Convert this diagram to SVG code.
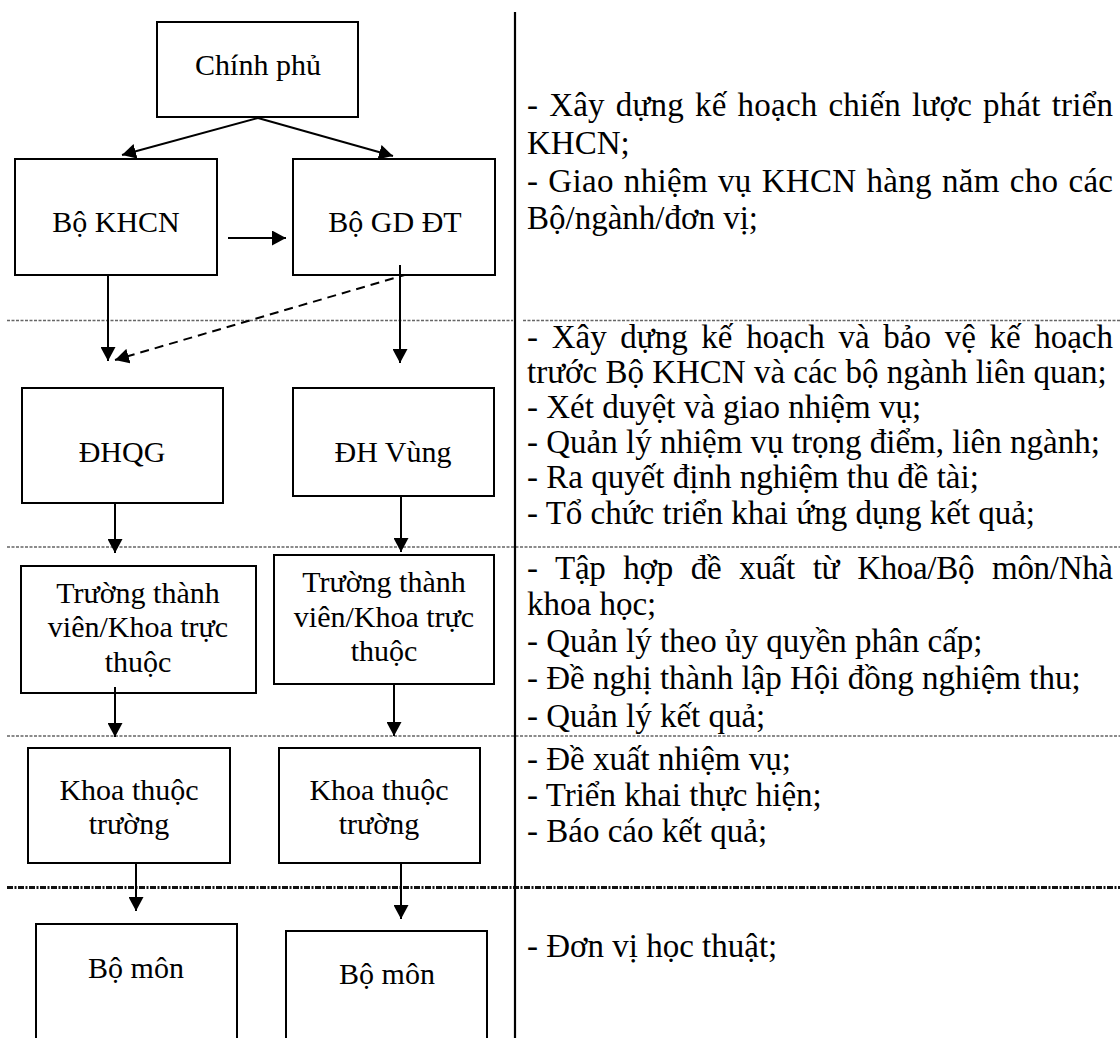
<svg xmlns="http://www.w3.org/2000/svg" width="1120" height="1038" viewBox="0 0 1120 1038">
<style>
.box{fill:#fff;stroke:#000;stroke-width:2}
.nt{font-family:"Liberation Serif","Times New Roman",serif;font-size:30px;fill:#000;text-anchor:middle}
.rt{font-family:"Liberation Serif","Times New Roman",serif;font-size:33px;fill:#000}
.con{stroke:#000;stroke-width:2;fill:none;marker-end:url(#ah)}
.dash{stroke:#000;stroke-width:2;fill:none;stroke-dasharray:9 6;marker-end:url(#ah)}
.sep{stroke:#666;stroke-width:1.3;stroke-dasharray:3 1.5;fill:none}
.sep2{stroke:#111;stroke-width:3;stroke-dasharray:6 1.5 2 1.5;fill:none}
</style>
<defs>
<marker id="ah" markerUnits="userSpaceOnUse" markerWidth="15" markerHeight="15" refX="14" refY="7.5" orient="auto">
<path d="M0,0 L14,7.5 L0,15 Z" fill="#000"/>
</marker>
</defs>
<rect width="1120" height="1038" fill="#fff"/>

<g id="separators">
<line class="sep" x1="7" y1="320.5" x2="513" y2="320.5"/>
<line class="sep" x1="523" y1="320.5" x2="1120" y2="320.5"/>
<line class="sep" x1="7" y1="547" x2="1120" y2="547"/>
<line class="sep" x1="7" y1="736" x2="1120" y2="736"/>
<line class="sep2" x1="7" y1="887.5" x2="1120" y2="887.5"/>
<line x1="515" y1="12" x2="515" y2="1038" stroke="#000" stroke-width="2.2"/>
</g>

<g id="connectors">
<line class="con" x1="258" y1="118" x2="122" y2="155"/>
<line class="con" x1="258" y1="118" x2="393" y2="156"/>
<line class="con" x1="228" y1="238" x2="286" y2="238"/>
<line class="con" x1="108" y1="275" x2="108" y2="361"/>
<line class="con" x1="400" y1="265" x2="400" y2="363"/>
<line class="dash" x1="408" y1="274" x2="115" y2="360"/>
<line class="con" x1="115" y1="503" x2="115" y2="553"/>
<line class="con" x1="401" y1="496" x2="401" y2="552"/>
<line class="con" x1="115" y1="687" x2="115" y2="737"/>
<line class="con" x1="394" y1="687" x2="394" y2="736"/>
<line class="con" x1="136" y1="863" x2="136" y2="911"/>
<line class="con" x1="401" y1="863" x2="401" y2="919"/>
</g>

<g id="n-chinhphu"><rect class="box" x="157" y="22" width="201" height="95"/><text class="nt" x="258" y="75">Chính phủ</text></g>
<g id="n-bokhcn"><rect class="box" x="15" y="159" width="202" height="116"/><text class="nt" x="116" y="232">Bộ KHCN</text></g>
<g id="n-bogddt"><rect class="box" x="293" y="159" width="202" height="116"/><text class="nt" x="395" y="232">Bộ GD ĐT</text></g>
<line x1="400" y1="265" x2="400" y2="275" stroke="#000" stroke-width="2"/>
<g id="n-dhqg"><rect class="box" x="22" y="388" width="201" height="115"/><text class="nt" x="122" y="462">ĐHQG</text></g>
<g id="n-dhvung"><rect class="box" x="293" y="388" width="201" height="108"/><text class="nt" x="393" y="462">ĐH Vùng</text></g>
<g id="n-truong1"><rect class="box" x="21" y="566" width="235" height="127"/>
<text class="nt" x="138" y="603">Trường thành</text><text class="nt" x="138" y="637">viên/Khoa trực</text><text class="nt" x="138" y="672">thuộc</text></g>
<g id="n-truong2"><rect class="box" x="274" y="555" width="220" height="129"/>
<text class="nt" x="384" y="592">Trường thành</text><text class="nt" x="384" y="627">viên/Khoa trực</text><text class="nt" x="384" y="661">thuộc</text></g>
<line x1="115" y1="687" x2="115" y2="693" stroke="#000" stroke-width="2"/>
<line x1="394" y1="684" x2="394" y2="687" stroke="#000" stroke-width="2"/>
<g id="n-khoa1"><rect class="box" x="28" y="748" width="202" height="115"/>
<text class="nt" x="129" y="800">Khoa thuộc</text><text class="nt" x="129" y="834">trường</text></g>
<g id="n-khoa2"><rect class="box" x="279" y="748" width="201" height="115"/>
<text class="nt" x="379" y="800">Khoa thuộc</text><text class="nt" x="379" y="834">trường</text></g>
<g id="n-bomon1"><rect class="box" x="36" y="924" width="201" height="130"/><text class="nt" x="136" y="978">Bộ môn</text></g>
<g id="n-bomon2"><rect class="box" x="286" y="931" width="201" height="125"/><text class="nt" x="387" y="984">Bộ môn</text></g>

<g id="notes">
<text class="rt" x="527" y="116" word-spacing="2.5" textLength="586" lengthAdjust="spacing">- Xây dựng kế hoạch chiến lược phát triển</text>
<text class="rt" x="527" y="154">KHCN;</text>
<text class="rt" x="527" y="192" word-spacing="1.5" textLength="586" lengthAdjust="spacing">- Giao nhiệm vụ KHCN hàng năm cho các</text>
<text class="rt" x="527" y="229">Bộ/ngành/đơn vị;</text>

<text class="rt" x="527" y="348" word-spacing="5.5" textLength="586" lengthAdjust="spacing">- Xây dựng kế hoạch và bảo vệ kế hoạch</text>
<text class="rt" x="527" y="383">trước Bộ KHCN và các bộ ngành liên quan;</text>
<text class="rt" x="527" y="418">- Xét duyệt và giao nhiệm vụ;</text>
<text class="rt" x="527" y="453">- Quản lý nhiệm vụ trọng điểm, liên ngành;</text>
<text class="rt" x="527" y="488">- Ra quyết định nghiệm thu đề tài;</text>
<text class="rt" x="527" y="524">- Tổ chức triển khai ứng dụng kết quả;</text>

<text class="rt" x="527" y="579" word-spacing="10" textLength="586" lengthAdjust="spacing">- Tập hợp đề xuất từ Khoa/Bộ môn/Nhà</text>
<text class="rt" x="527" y="615">khoa học;</text>
<text class="rt" x="527" y="652">- Quản lý theo ủy quyền phân cấp;</text>
<text class="rt" x="527" y="689">- Đề nghị thành lập Hội đồng nghiệm thu;</text>
<text class="rt" x="527" y="727">- Quản lý kết quả;</text>

<text class="rt" x="527" y="770">- Đề xuất nhiệm vụ;</text>
<text class="rt" x="527" y="806">- Triển khai thực hiện;</text>
<text class="rt" x="527" y="842">- Báo cáo kết quả;</text>

<text class="rt" x="527" y="957">- Đơn vị học thuật;</text>
</g>
</svg>
